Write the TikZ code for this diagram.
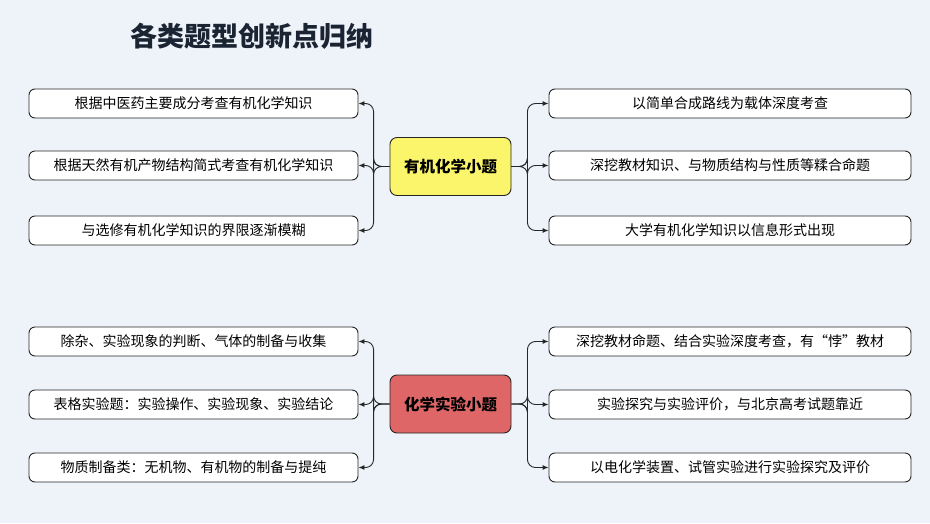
\documentclass[tikz,border=0pt]{standalone}
\usepackage{fontspec}
\newfontfamily\cjk{Noto Sans CJK SC}
\usetikzlibrary{arrows.meta}
\definecolor{bg}{HTML}{EEF3F9}
\definecolor{ybox}{HTML}{FAF56A}
\definecolor{rbox}{HTML}{DF6666}
\definecolor{ttl}{HTML}{1A2433}
\begin{document}
\begin{tikzpicture}[x=1pt,y=-1pt,
 leaf/.style={draw=black!85,line width=0.9pt,rounded corners=6pt,fill=white,inner sep=0,font=\cjk\fontsize{14}{16}\selectfont},
 hub/.style={draw=black!85,line width=0.9pt,rounded corners=7pt,inner sep=0,minimum width=121pt,minimum height=58pt,font=\cjk\bfseries\fontsize{15.5}{17}\selectfont},
 con/.style={line width=0.9pt,black!85,rounded corners=8pt,-{Latex[length=6pt,width=5pt]}}]
\fill[bg] (0,0) rectangle (930,523);
\node[font=\cjk\bfseries\fontsize{27}{29}\selectfont,text=ttl,anchor=west] (title) at (127,36) {各类题型创新点归纳};
\foreach \cy/\nm/\fc/\txt in {166.5/A/ybox/有机化学小题, 404/B/rbox/化学实验小题}{
  \node[hub,fill=\fc] (\nm) at (450.5,\cy) {\txt};
}
\foreach \nm/\y/\txt in {AL1/103.5/根据中医药主要成分考查有机化学知识, AL2/165.5/根据天然有机产物结构简式考查有机化学知识, AL3/230.5/与选修有机化学知识的界限逐渐模糊,
 BL1/341.5/除杂、实验现象的判断、气体的制备与收集, BL2/404.5/表格实验题：实验操作、实验现象、实验结论, BL3/467.5/物质制备类：无机物、有机物的制备与提纯}{
  \node[leaf,minimum width=329pt,minimum height=29pt] (\nm) at (193.5,\y) {\txt};
}
\foreach \nm/\y/\txt in {AR1/103.5/以简单合成路线为载体深度考查, AR2/165.5/深挖教材知识、与物质结构与性质等糅合命题, AR3/230.5/大学有机化学知识以信息形式出现,
 BR1/341.5/深挖教材命题、结合实验深度考查，有“悖”教材, BR2/404.5/实验探究与实验评价，与北京高考试题靠近, BR3/467.5/以电化学装置、试管实验进行实验探究及评价}{
  \node[leaf,minimum width=362pt,minimum height=29pt] (\nm) at (730,\y) {\txt};
}
\foreach \h in {A,B}{
  \foreach \i in {1,2,3}{
    \draw[con] (\h.west) -- ++(-16,0) |- (\h L\i.east);
    \draw[con] (\h.east) -- ++(16,0) |- (\h R\i.west);
  }
}
\end{tikzpicture}
\end{document}
